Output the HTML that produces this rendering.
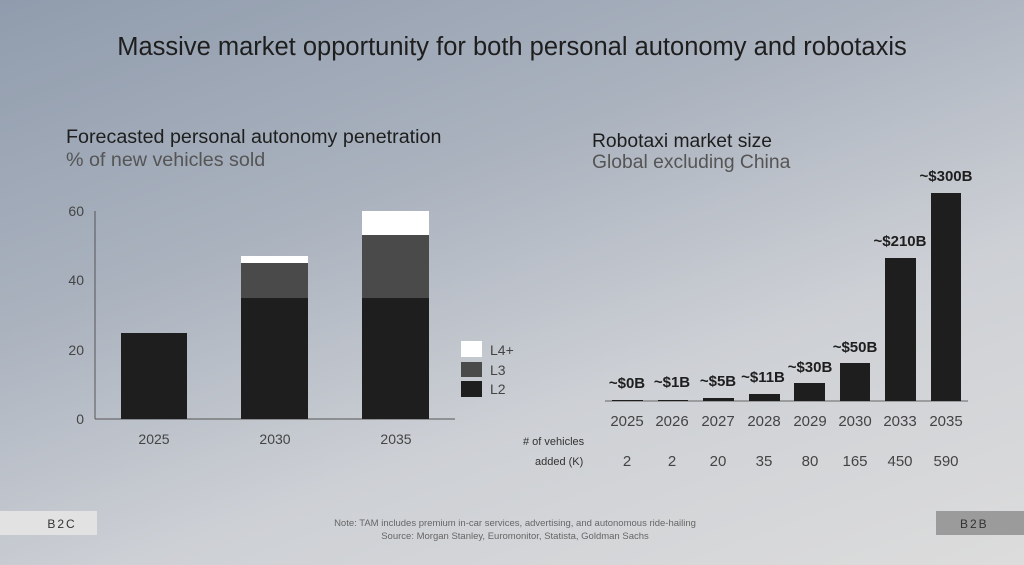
<!DOCTYPE html><html><head><style>
body{margin:0;width:1024px;height:565px;overflow:hidden;font-family:"Liberation Sans",sans-serif;background:linear-gradient(160deg,#909cad 0%,#aab2be 35%,#cdd0d5 65%,#dcdcdc 100%);position:relative}
.t{position:absolute;white-space:nowrap}
</style></head><body>
<div class="t" style="left:0;width:1024px;top:33px;text-align:center;font-size:25.5px;color:#1e1e1e">Massive market opportunity for both personal autonomy and robotaxis</div>
<div class="t" style="left:66px;top:126px;font-size:19.7px;color:#1e1e1e">Forecasted personal autonomy penetration</div>
<div class="t" style="left:66px;top:149px;font-size:19.7px;color:#555">% of new vehicles sold</div>
<div class="t" style="left:592px;top:131px;font-size:19.3px;color:#1e1e1e">Robotaxi market size</div>
<div class="t" style="left:592px;top:152px;font-size:19.3px;color:#555">Global excluding China</div>
<svg width="1024" height="565" style="position:absolute;left:0;top:0" font-family="Liberation Sans, sans-serif">
<g fill="#444" font-size="14" text-anchor="end">
<text x="84" y="216">60</text><text x="84" y="285">40</text><text x="84" y="355">20</text><text x="84" y="424">0</text></g>
<line x1="95" y1="211" x2="95" y2="419" stroke="#555"/>
<line x1="95" y1="419" x2="455" y2="419" stroke="#555"/>
<rect x="121" y="333" width="66" height="86" fill="#1e1e1e"/>
<rect x="241" y="298" width="67" height="121" fill="#1e1e1e"/>
<rect x="241" y="263" width="67" height="35" fill="#4a4a4a"/>
<rect x="241" y="256" width="67" height="7" fill="#fff"/>
<rect x="362" y="298" width="67" height="121" fill="#1e1e1e"/>
<rect x="362" y="235" width="67" height="63" fill="#4a4a4a"/>
<rect x="362" y="211" width="67" height="24" fill="#fff"/>
<g fill="#444" font-size="14" text-anchor="middle"><text x="154" y="444">2025</text><text x="275" y="444">2030</text><text x="396" y="444">2035</text></g>
<rect x="461" y="341" width="21" height="16" fill="#fff"/><rect x="461" y="362" width="21" height="15" fill="#4a4a4a"/><rect x="461" y="381" width="21" height="16" fill="#1e1e1e"/>
<g fill="#444" font-size="14"><text x="490" y="355">L4+</text><text x="490" y="375">L3</text><text x="490" y="394">L2</text></g>
<line x1="605" y1="401" x2="968" y2="401" stroke="#666"/>
<g fill="#1e1e1e">
<rect x="612" y="400" width="31" height="1"/><rect x="658" y="400" width="30" height="1"/>
<rect x="703" y="398" width="31" height="3"/><rect x="749" y="394" width="31" height="7"/>
<rect x="794" y="383" width="31" height="18"/><rect x="840" y="363" width="30" height="38"/>
<rect x="885" y="258" width="31" height="143"/><rect x="931" y="193" width="30" height="208"/></g>
<g fill="#1e1e1e" font-size="15" font-weight="bold" text-anchor="middle">
<text x="627" y="388">~$0B</text><text x="672" y="387">~$1B</text><text x="718" y="386">~$5B</text><text x="763" y="382">~$11B</text>
<text x="810" y="372">~$30B</text><text x="855" y="352">~$50B</text><text x="900" y="246">~$210B</text><text x="946" y="181">~$300B</text></g>
<g fill="#444" font-size="15" text-anchor="middle">
<text x="627" y="426">2025</text><text x="672" y="426">2026</text><text x="718" y="426">2027</text><text x="764" y="426">2028</text>
<text x="810" y="426">2029</text><text x="855" y="426">2030</text><text x="900" y="426">2033</text><text x="946" y="426">2035</text>
<text x="627" y="466">2</text><text x="672" y="466">2</text><text x="718" y="466">20</text><text x="764" y="466">35</text>
<text x="810" y="466">80</text><text x="855" y="466">165</text><text x="900" y="466">450</text><text x="946" y="466">590</text></g>
<g fill="#333" font-size="11"><text x="523" y="445"># of vehicles</text><text x="535" y="465">added (K)</text></g>
<rect x="0" y="511" width="97" height="24" fill="#e2e2e2"/>
<text x="62" y="528" font-size="12" fill="#333" text-anchor="middle" letter-spacing="2">B2C</text>
<rect x="936" y="511" width="88" height="24" fill="#9b9b9b"/>
<text x="960" y="528" font-size="12" fill="#333" letter-spacing="2">B2B</text>
<g fill="#666" font-size="9.5" text-anchor="middle"><text x="515" y="526">Note: TAM includes premium in-car services, advertising, and autonomous ride-hailing</text>
<text x="515" y="539">Source: Morgan Stanley, Euromonitor, Statista, Goldman Sachs</text></g>
</svg>
</body></html>
